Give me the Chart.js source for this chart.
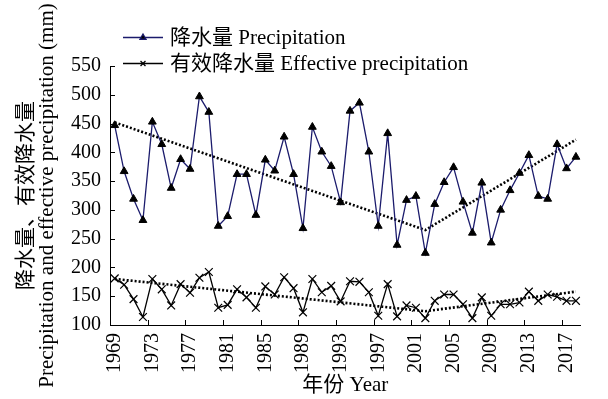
<!DOCTYPE html>
<html>
<head>
<meta charset="utf-8">
<script src="https://cdn.jsdelivr.net/npm/chart.js@4.4.1/dist/chart.umd.min.js"></script>
<style>
  html, body { margin: 0; padding: 0; background: #fff; }
  #wrap { width: 608px; height: 399px; }
</style>
</head>
<body>
<div id="wrap"><canvas id="c" width="608" height="399"></canvas></div>
<script>
// Annual series, 1969–2018 (mm)
const years = ['1969','1970','1971','1972','1973','1974','1975','1976','1977','1978',
               '1979','1980','1981','1982','1983','1984','1985','1986','1987','1988',
               '1989','1990','1991','1992','1993','1994','1995','1996','1997','1998',
               '1999','2000','2001','2002','2003','2004','2005','2006','2007','2008',
               '2009','2010','2011','2012','2013','2014','2015','2016','2017','2018'];

const precipitation = [447, 367, 319, 282, 453, 414, 338, 388, 371, 497,
                       470, 272, 289, 362, 362, 291, 387, 368, 427, 362,
                       268, 444, 401, 376, 313, 472, 486, 401, 272, 433,
                       239, 317, 324, 225, 310, 348, 374, 314, 260, 347,
                       243, 300, 334, 364, 395, 324, 319, 414, 372, 392];

const effectivePrecipitation = [181, 170, 145, 114, 180, 162, 134, 171, 156, 182,
                                192, 130, 135, 162, 148, 130, 167, 153, 183, 164,
                                122, 180, 157, 168, 141, 176, 175, 157, 116, 171,
                                115, 134, 130, 112, 142, 153, 153, 136, 112, 148,
                                116, 136, 136, 139, 158, 142, 153, 149, 142, 142];

// Piecewise linear trends (break in 2002)
const trendYears = ['1969', '2002', '2018'];
const precipitationTrend = [452, 265, 422];
const effectiveTrend = [180, 124, 158];

// Y axis range
const yMin = 100, yMax = 550, yStep = 50;

const FONT = "'Liberation Serif', 'Noto Sans CJK SC', serif";
const PRECIP_COLOR = '#1b1b6c';

const toPoints = (xs, ys) => xs.map((x, i) => ({ x, y: ys[i] }));

// Inward tick marks on both axes, and the legend at the top left
const decorations = {
  id: 'decorations',
  afterDraw(chart) {
    const { ctx, chartArea: a, scales: { x, y } } = chart;
    ctx.save();
    ctx.strokeStyle = '#000';
    ctx.lineWidth = 1;
    ctx.beginPath();
    y.ticks.forEach((t, i) => {
      const py = Math.round(y.getPixelForTick(i)) + 0.5;
      ctx.moveTo(a.left, py);
      ctx.lineTo(a.left + 5, py);
    });
    const half = (x.getPixelForValue(1) - x.getPixelForValue(0)) / 2;
    years.forEach((yr, i) => {
      if (i > 0 && i % 4 === 0) {
        const px = Math.round(x.getPixelForValue(i) - half) + 0.5;
        ctx.moveTo(px, a.bottom);
        ctx.lineTo(px, a.bottom - 5);
      }
    });
    ctx.stroke();

    // legend
    const items = [chart.data.datasets[0], chart.data.datasets[1]];
    const rows = [37, 63];
    const x0 = 123, x1 = 163, xm = 143, tx = 170;
    items.forEach((ds, k) => {
      const yy = rows[k] + 0.5;
      ctx.beginPath();
      ctx.strokeStyle = ds.borderColor;
      ctx.lineWidth = 1.3;
      ctx.moveTo(x0, yy);
      ctx.lineTo(x1, yy);
      ctx.stroke();
      Chart.helpers.drawPoint(ctx, {
        pointStyle: ds.pointStyle,
        radius: 3.5,
        borderWidth: 1.2,
        rotation: 0
      }, xm, yy);
      ctx.fillStyle = '#000';
      ctx.font = '21px ' + FONT;
      ctx.textBaseline = 'middle';
      ctx.textAlign = 'left';
      ctx.fillText(ds.label, tx, yy + 1);
    });
    ctx.restore();
  }
};

new Chart(document.getElementById('c'), {
  type: 'line',
  data: {
    labels: years,
    datasets: [
      {
        label: '降水量 Precipitation',
        data: precipitation,
        borderColor: PRECIP_COLOR,
        borderWidth: 1.3,
        pointStyle: 'triangle',
        pointRadius: 4.5,
        pointBackgroundColor: '#000',
        pointBorderColor: '#000',
        pointBorderWidth: 1,
        tension: 0,
        clip: false
      },
      {
        label: '有效降水量 Effective precipitation',
        data: effectivePrecipitation,
        borderColor: '#000',
        borderWidth: 1.3,
        pointStyle: 'crossRot',
        pointRadius: 5.5,
        pointBorderColor: '#000',
        pointBorderWidth: 1.2,
        tension: 0,
        clip: false
      },
      {
        label: 'precipitation trend',
        data: toPoints(trendYears, precipitationTrend),
        borderColor: '#000',
        borderWidth: 2.6,
        borderDash: [2, 2],
        pointRadius: 0,
        tension: 0,
        clip: false
      },
      {
        label: 'effective trend',
        data: toPoints(trendYears, effectiveTrend),
        borderColor: '#000',
        borderWidth: 2.6,
        borderDash: [2, 2],
        pointRadius: 0,
        tension: 0,
        clip: false
      }
    ]
  },
  options: {
    responsive: false,
    devicePixelRatio: 1,
    animation: false,
    layout: { padding: { top: 66, right: 6, left: 0, bottom: 0 } },
    plugins: { legend: { display: false }, tooltip: { enabled: false } },
    scales: {
      x: {
        type: 'category',
        offset: true,
        grid: { display: false, drawTicks: false },
        border: { display: true, color: '#000', width: 1 },
        ticks: {
          autoSkip: false,
          maxRotation: 90,
          minRotation: 90,
          padding: 8,
          color: '#000',
          font: { family: FONT, size: 20 },
          callback: (v, i) => (i % 4 === 0 ? years[i] : '')
        },
        title: {
          display: true,
          text: '年份 Year',
          color: '#000',
          font: { family: FONT, size: 21, lineHeight: 1 },
          padding: { top: 0, bottom: 3.5 }
        },
        afterFit(scale) { scale.height = 74; }
      },
      y: {
        min: yMin,
        max: yMax,
        grid: { display: false, drawTicks: false },
        border: { display: true, color: '#000', width: 1 },
        ticks: {
          stepSize: yStep,
          padding: 9,
          color: '#000',
          font: { family: FONT, size: 20 }
        },
        title: {
          display: true,
          text: ['降水量、有效降水量', 'Precipitation and effective precipitation (mm)'],
          color: '#000',
          font: { family: FONT, size: 21, lineHeight: 1 },
          padding: { top: 15.5, bottom: 0 }
        },
        afterFit(scale) { scale.width = 110; }
      }
    }
  },
  plugins: [decorations]
});
</script>
</body>
</html>
